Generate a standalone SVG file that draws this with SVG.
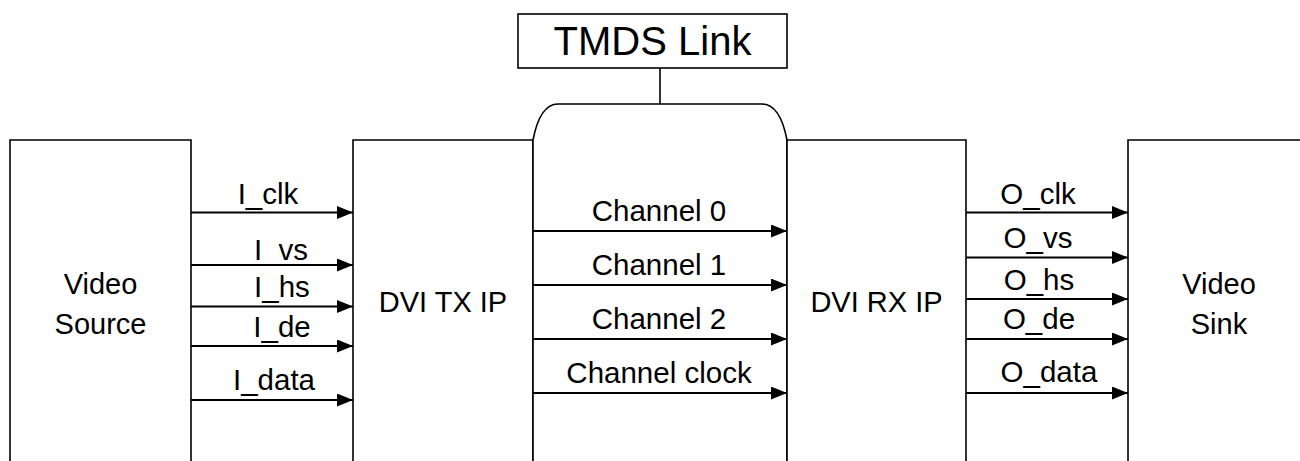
<svg xmlns="http://www.w3.org/2000/svg" width="1300" height="461" viewBox="0 0 1300 461">
  <defs>
    <marker id="arrow" markerWidth="16" markerHeight="13" refX="16" refY="6.5" orient="auto" markerUnits="userSpaceOnUse">
      <path d="M0,0 L16,6.5 L0,13 Z" fill="#000"/>
    </marker>
  </defs>
  <style>
    .box { fill: #fff; stroke: #000; stroke-width: 1.6; }
    .wire { stroke: #000; stroke-width: 1.8; fill: none; marker-end: url(#arrow); }
    .stub { stroke: #000; stroke-width: 1.6; fill: none; }
    text { font-family: "Liberation Sans", Arial, sans-serif; fill: #000; text-anchor: middle; }
    .node { font-size: 29px; }
    .title { font-size: 40px; }
    .sig { font-size: 29.5px; }
  </style>
  <rect width="1300" height="461" fill="#fff"/>

  <g id="video-source">
    <path class="box" d="M10,470 V140 H191 V470"/>
    <text class="node" x="100.5" y="294">Video</text>
    <text class="node" x="100.5" y="334">Source</text>
  </g>

  <g id="dvi-tx">
    <path class="box" d="M353,470 V140 H533 V470"/>
    <text class="node" x="443" y="312">DVI TX IP</text>
  </g>

  <g id="tmds-channel">
    <path class="box" d="M533,470 V140 Q540,104 558,104 H762 Q780,104 787,140 V470"/>
  </g>

  <g id="dvi-rx">
    <path class="box" d="M787,470 V140 H966 V470"/>
    <text class="node" x="876.5" y="312">DVI RX IP</text>
  </g>

  <g id="video-sink">
    <path class="box" d="M1128,470 V140 H1310 V470"/>
    <text class="node" x="1219" y="294">Video</text>
    <text class="node" x="1219" y="334">Sink</text>
  </g>

  <g id="tmds-link">
    <rect class="box" x="518" y="14" width="269" height="54"/>
    <text class="title" x="652.5" y="55">TMDS Link</text>
  </g>

  <g id="connectors">
    <line class="stub" x1="660" y1="68" x2="660" y2="104"/>

    <line class="wire" x1="191" y1="212.5" x2="353" y2="212.5"/>
    <line class="wire" x1="191" y1="265" x2="353" y2="265"/>
    <line class="wire" x1="191" y1="306.5" x2="353" y2="306.5"/>
    <line class="wire" x1="191" y1="346" x2="353" y2="346"/>
    <line class="wire" x1="191" y1="400" x2="353" y2="400"/>

    <line class="wire" x1="533" y1="231" x2="787" y2="231"/>
    <line class="wire" x1="533" y1="285" x2="787" y2="285"/>
    <line class="wire" x1="533" y1="339" x2="787" y2="339"/>
    <line class="wire" x1="533" y1="393" x2="787" y2="393"/>

    <line class="wire" x1="966" y1="212.5" x2="1128" y2="212.5"/>
    <line class="wire" x1="966" y1="257.5" x2="1128" y2="257.5"/>
    <line class="wire" x1="966" y1="299" x2="1128" y2="299"/>
    <line class="wire" x1="966" y1="339" x2="1128" y2="339"/>
    <line class="wire" x1="966" y1="393" x2="1128" y2="393"/>

    <text class="sig" x="268" y="204">I_clk</text>
    <text class="sig" x="281" y="260">I_vs</text>
    <text class="sig" x="282" y="297">I_hs</text>
    <text class="sig" x="282" y="337">I_de</text>
    <text class="sig" x="274" y="390">I_data</text>

    <text class="sig" x="659" y="221">Channel 0</text>
    <text class="sig" x="659" y="275">Channel 1</text>
    <text class="sig" x="659" y="329">Channel 2</text>
    <text class="sig" x="659" y="383">Channel clock</text>

    <text class="sig" x="1038" y="204">O_clk</text>
    <text class="sig" x="1038" y="248">O_vs</text>
    <text class="sig" x="1039" y="290">O_hs</text>
    <text class="sig" x="1039" y="329">O_de</text>
    <text class="sig" x="1049" y="382">O_data</text>
  </g>
</svg>
